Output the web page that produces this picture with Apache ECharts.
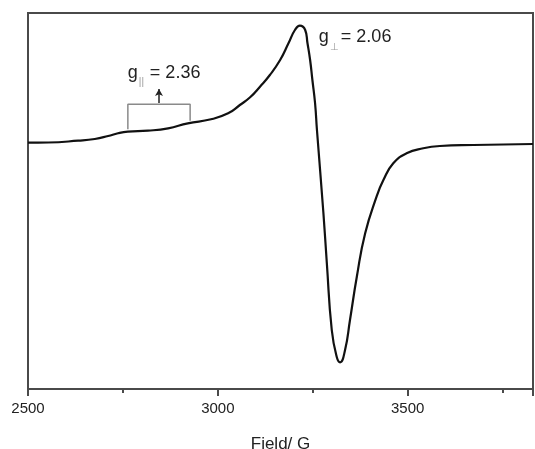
<!DOCTYPE html>
<html>
<head>
<meta charset="utf-8">
<script src="https://cdn.jsdelivr.net/npm/echarts@6/dist/echarts.min.js"></script>
<style>html,body{margin:0;padding:0;background:#fff;}#c{width:535px;height:449px;}</style>
</head>
<body>
<div id="c"></div>
<script>
// EPR spectrum data (field in G, intensity in arbitrary units)
var fields = [2500, 2553, 2632, 2676, 2711, 2737, 2763, 2816, 2869, 2921, 2982, 3027, 3058, 3085, 3111, 3137, 3164, 3186, 3203, 3216, 3230, 3236, 3243, 3249, 3256, 3261, 3278, 3287, 3300, 3313, 3322, 3335, 3348, 3366, 3388, 3418, 3436, 3462, 3497, 3541, 3585, 3673, 3830];
var intensity = [0.3, 0.5, 2.3, 4, 7, 9.7, 11.3, 12.3, 14.7, 19.7, 23.7, 29.7, 38, 45.7, 56.3, 68, 83, 99.7, 113, 117.3, 113, 100, 83, 63, 40, 13, -70, -120, -187, -213.7, -219.3, -207, -177, -133.7, -90.3, -53.7, -37, -20.3, -10.3, -5.3, -3, -2, -1];
var xTicks = [2500, 3000, 3500];
// g|| bracket (field, intensity)
var bracketFields = [2763, 2763, 2927, 2927];
var bracketIntensity = [13.7, 38.7, 38.7, 22.3];
var arrowField = 2845;
var arrowFrom = 40, arrowTo = 54;
var labelPar = {text: '2.36', field: 2763, y: 61.3};
var labelPerp = {text: '2.06', field: 3266, y: 97};

var chart = echarts.init(document.getElementById('c'));
var lineData = fields.map(function (f, i) { return [f, intensity[i]]; });
var bracketData = bracketFields.map(function (f, i) { return [f, bracketIntensity[i]]; });
var FONT = 'Liberation Sans, Arial, sans-serif';

chart.setOption({
  animation: false,
  grid: {left: 28, top: 13, right: 2, bottom: 60, show: true, borderColor: '#4a4a4a', borderWidth: 2,
         backgroundColor: 'transparent', containLabel: false, outerBoundsMode: 'none'},
  xAxis: {
    type: 'value', min: 2500, max: 3830, interval: 500,
    axisLine: {show: true, onZero: false, lineStyle: {color: '#4a4a4a', width: 2}},
    axisTick: {show: true, inside: false, length: 7, lineStyle: {color: '#4a4a4a', width: 2}},
    minorTick: {show: true, splitNumber: 2, length: 4, lineStyle: {color: '#4a4a4a', width: 2}},
    splitLine: {show: false},
    axisLabel: {
      margin: 12, color: '#222', fontSize: 15, fontFamily: FONT,
      formatter: function (v) { return xTicks.indexOf(v) >= 0 ? String(v) : ''; }
    },
    name: 'Field/ G', nameLocation: 'middle', nameGap: 47,
    nameTextStyle: {color: '#222', fontSize: 17, fontFamily: FONT}
  },
  yAxis: {
    type: 'value', min: -246, max: 130,
    axisLine: {show: true, onZero: false, lineStyle: {color: '#4a4a4a', width: 2}},
    axisTick: {show: false}, axisLabel: {show: false}, splitLine: {show: false}
  },
  series: [
    {
      type: 'line', data: lineData, showSymbol: false, smooth: 0.5,
      lineStyle: {color: '#111', width: 2.2}, z: 3
    },
    {
      type: 'line', data: bracketData, showSymbol: false, smooth: false,
      lineStyle: {color: '#8a8a8a', width: 1.5}, z: 2,
      markLine: {
        silent: true, symbol: ['none', 'arrow'], symbolSize: [6, 7],
        label: {show: false},
        lineStyle: {color: '#222', width: 1.5, type: 'solid'},
        data: [[{coord: [arrowField, arrowFrom]}, {coord: [arrowField, arrowTo]}]]
      }
    }
  ]
});

function makeLabel(lab, sub) {
  var p = chart.convertToPixel({gridIndex: 0}, [lab.field, lab.y]);
  var base = p[1];
  return [
    {type: 'text', x: p[0], y: base, style: {text: 'g', font: '18px ' + FONT, fill: '#222', align: 'left', verticalAlign: 'bottom'}},
    {type: 'text', x: p[0] + 11, y: base + 6, style: {text: sub, font: '10px ' + FONT, fill: '#999', align: 'left', verticalAlign: 'bottom'}},
    {type: 'text', x: p[0] + 22, y: base, style: {text: '= ' + lab.text, font: '18px ' + FONT, fill: '#222', align: 'left', verticalAlign: 'bottom'}}
  ];
}
chart.setOption({graphic: makeLabel(labelPar, '||').concat(makeLabel(labelPerp, '\u22A5'))});
</script>
</body>
</html>
